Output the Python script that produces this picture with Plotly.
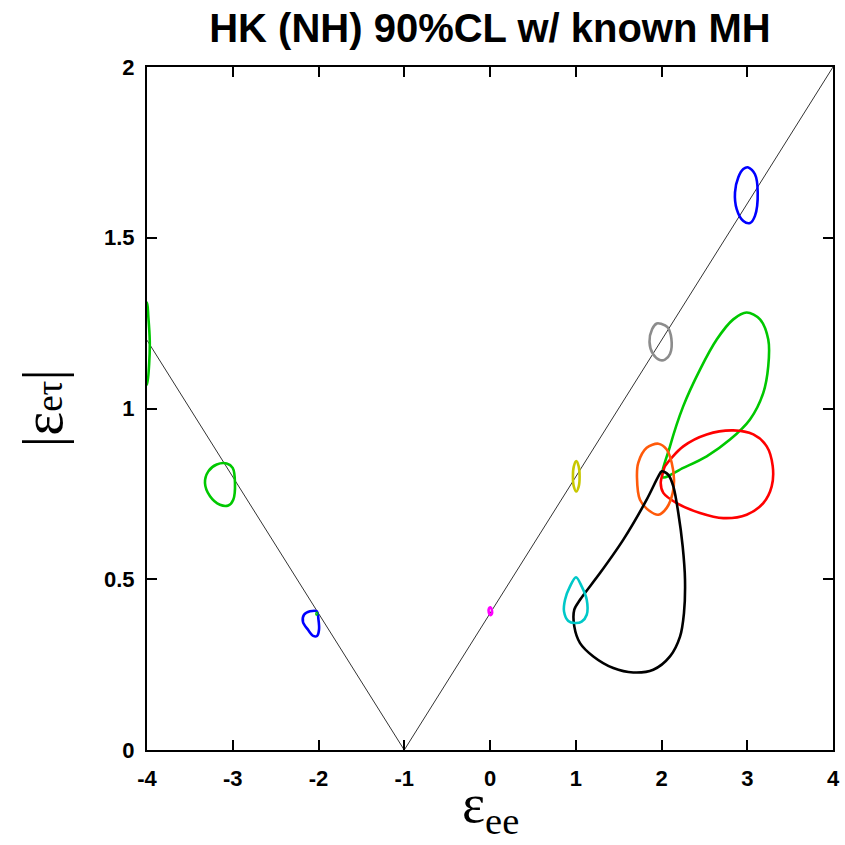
import plotly.graph_objects as go

# Diagonal reference line |e_et| = 0.4|1+e_ee|
v_x = [-4, -1, 4]
v_y = [1.2, 0, 2]

# Contours
blue_top_x = [3.012, 3.090, 3.122, 3.090, 3.032, 2.954, 2.877, 2.857, 2.896, 2.954]
blue_top_y = [1.706, 1.686, 1.633, 1.564, 1.543, 1.549, 1.584, 1.633, 1.677, 1.701]

gray_x = [1.995, 2.07, 2.115, 2.10, 2.04, 1.98, 1.90, 1.86, 1.89, 1.945]
gray_y = [1.248, 1.238, 1.205, 1.16, 1.143, 1.142, 1.16, 1.195, 1.232, 1.249]

green_big_x = [2.014, 2.099, 2.254, 2.449, 2.644, 2.837, 2.993, 3.149, 3.245, 3.245,
               3.187, 3.032, 2.799, 2.527, 2.254]
green_big_y = [0.799, 0.889, 1.007, 1.114, 1.202, 1.261, 1.281, 1.261, 1.202, 1.124,
               1.046, 0.968, 0.909, 0.860, 0.826]

red_x = [2.041, 2.254, 2.527, 2.837, 3.071, 3.227, 3.297, 3.285, 3.187, 2.993,
         2.721, 2.449, 2.177, 2.021, 1.991, 2.021]
red_y = [0.831, 0.889, 0.924, 0.936, 0.924, 0.889, 0.831, 0.772, 0.723, 0.689,
         0.679, 0.694, 0.723, 0.753, 0.782, 0.816]

orange_x = [1.963, 2.061, 2.119, 2.146, 2.131, 2.061, 1.963, 1.866, 1.749, 1.714, 1.729, 1.827]
orange_y = [0.897, 0.880, 0.841, 0.792, 0.753, 0.709, 0.689, 0.699, 0.733, 0.798, 0.841, 0.885]

black_x = [2.002, 2.079, 2.138, 2.196, 2.247, 2.274, 2.262, 2.216, 2.099, 1.904, 1.671,
           1.438, 1.205, 1.050, 0.983, 0.983, 1.050, 1.283, 1.555, 1.827, 1.963]
black_y = [0.816, 0.806, 0.772, 0.694, 0.596, 0.499, 0.401, 0.332, 0.274, 0.235, 0.227,
           0.240, 0.274, 0.313, 0.362, 0.411, 0.440, 0.518, 0.616, 0.733, 0.801]

cyan_x = [1.003, 1.069, 1.128, 1.128, 1.069, 0.991, 0.913, 0.863, 0.875, 0.933]
cyan_y = [0.506, 0.479, 0.440, 0.396, 0.376, 0.372, 0.378, 0.406, 0.440, 0.479]

yellow_x = [1.006, 1.035, 1.045, 1.035, 1.006, 0.977, 0.967, 0.977]
yellow_y = [0.846, 0.830, 0.801, 0.772, 0.757, 0.772, 0.801, 0.830]

magenta_x = [0.005, 0.022, 0.020, 0.002, -0.014, -0.012]
magenta_y = [0.418, 0.410, 0.398, 0.395, 0.403, 0.415]

blue_small_x = [-2.021, -2.000, -1.994, -2.017, -2.061, -2.122, -2.181, -2.169, -2.099]
blue_small_y = [0.406, 0.381, 0.352, 0.334, 0.334, 0.352, 0.375, 0.396, 0.406]

green_left_x = [-3.071, -3.001, -2.974, -2.994, -3.052, -3.149, -3.265, -3.324, -3.285, -3.187]
green_left_y = [0.839, 0.826, 0.782, 0.733, 0.716, 0.718, 0.743, 0.782, 0.816, 0.836]

green_edge_x = [-4.0, -3.985, -3.968, -3.975, -4.0, -4.05, -4.06, -4.05]
green_edge_y = [1.31, 1.27, 1.20, 1.13, 1.07, 1.12, 1.19, 1.27]

green_dot_x = [-2.021, -2.015, -2.024]
green_dot_y = [0.402, 0.398, 0.397]

x_ticks = [-4, -3, -2, -1, 0, 1, 2, 3, 4]
x_ticktext = ["-4", "-3", "-2", "-1", "0", "1", "2", "3", "4"]
y_ticks = [0, 0.5, 1, 1.5, 2]
y_ticktext = ["0", "0.5", "1", "1.5", "2"]

contours = [
    (blue_top_x, blue_top_y, "#0000ff"),
    (gray_x, gray_y, "#8c8c8c"),
    (green_big_x, green_big_y, "#00c800"),
    (red_x, red_y, "#ff0000"),
    (orange_x, orange_y, "#ff5a0a"),
    (black_x, black_y, "#000000"),
    (cyan_x, cyan_y, "#00c8c8"),
    (yellow_x, yellow_y, "#c8c800"),
    (magenta_x, magenta_y, "#ff00ff"),
    (blue_small_x, blue_small_y, "#0000ff"),
    (green_left_x, green_left_y, "#00c800"),
    (green_edge_x, green_edge_y, "#00c800"),
    (green_dot_x, green_dot_y, "#00c800"),
]

fig = go.Figure()
fig.add_trace(go.Scatter(x=v_x, y=v_y, mode="lines",
                         line=dict(color="#333333", width=1), showlegend=False,
                         hoverinfo="skip"))
for cx, cy, col in contours:
    fig.add_trace(go.Scatter(x=cx + [cx[0]], y=cy + [cy[0]], mode="lines",
                             line=dict(color=col, width=2.6, shape="spline", smoothing=0.9),
                             showlegend=False))

axis_common = dict(showgrid=False, zeroline=False, showline=True, linecolor="black",
                   linewidth=2, mirror="ticks", ticks="inside", ticklen=10, tickwidth=1.5,
                   tickcolor="black", automargin=False,
                   tickfont=dict(family="Liberation Sans", size=22, color="black", weight="bold"))

fig.update_xaxes(range=[-4, 4], tickvals=x_ticks, ticktext=x_ticktext,
                 ticklabelstandoff=8, **axis_common)
fig.update_yaxes(range=[0, 2], tickvals=y_ticks, ticktext=y_ticktext,
                 ticklabelstandoff=6, **axis_common)

fig.update_layout(
    width=845, height=845,
    margin=dict(l=147, r=12, t=67, b=95, autoexpand=False),
    plot_bgcolor="white", paper_bgcolor="white",
    title=dict(text="<b>HK (NH) 90%CL w/ known MH</b>", x=0.5, xref="paper", xanchor="center",
               y=1 - 28 / 845, yref="container", yanchor="middle",
               font=dict(family="Liberation Sans", size=40, color="black")),
    annotations=[
        dict(text="ε<sub>ee</sub>", x=0.5, y=-0.084, xref="paper", yref="paper",
             xanchor="center", yanchor="middle", showarrow=False,
             font=dict(family="Liberation Serif", size=55, color="black")),
        dict(text="|ε<span style='font-size:37px'>eτ</span>|", x=-0.152, y=0.5,
             xref="paper", yref="paper", xanchor="center", yanchor="middle",
             textangle=-90, showarrow=False,
             font=dict(family="Liberation Serif", size=57, color="black")),
    ],
)

fig.write_html("out.html")
